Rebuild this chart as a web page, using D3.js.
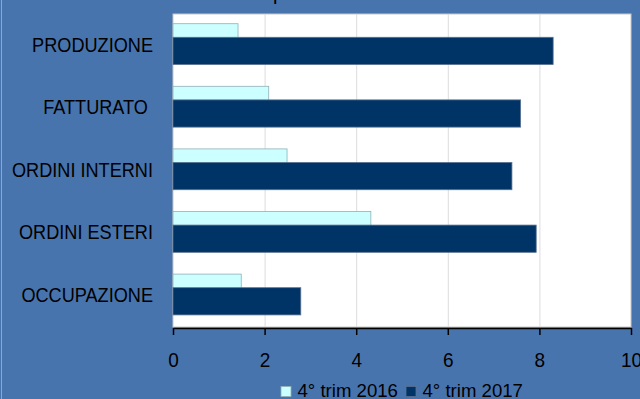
<!DOCTYPE html>
<html>
<head>
<meta charset="utf-8">
<script src="https://cdn.jsdelivr.net/npm/d3@7"></script>
<style>
  body { margin: 0; padding: 0; }
  svg { display: block; }
  text { font-family: "Liberation Sans", Arial, sans-serif; fill: #000; white-space: pre; }
</style>
</head>
<body>
<svg width="640" height="399"></svg>
<script>
// data
var categories = ["PRODUZIONE", "FATTURATO ", "ORDINI INTERNI", "ORDINI ESTERI", "OCCUPAZIONE"];
var trim2016 = [1.42, 2.09, 2.49, 4.32, 1.49];
var trim2017 = [8.30, 7.59, 7.40, 7.93, 2.79];
var seriesNames = ["4° trim 2016", "4° trim 2017"];
var xTicks = [0, 2, 4, 6, 8, 10];

var width = 640, height = 399;
var plotLeft = 173, plotRight = 631, plotTop = 14, plotBottom = 327;
var lightFill = "#ccffff", darkFill = "#003366";

var svg = d3.select('svg');

svg.append('rect')
    .attr('width', width)
    .attr('height', height)
    .attr('fill', '#4874ae');

svg.append('line')
    .attr('x1', 1.5).attr('x2', 1.5)
    .attr('y1', 0).attr('y2', height)
    .attr('stroke', '#8ea6ca');

// title (mostly cut off at the top)
svg.append('text')
    .attr('x', 323)
    .attr('y', 0)
    .attr('text-anchor', 'middle')
    .attr('font-size', 20)
    .text('precedente');

var x = d3.scaleLinear()
    .domain([0, 10])
    .range([plotLeft, plotRight]);

var y = d3.scaleBand()
    .domain(categories)
    .range([plotTop, plotBottom]);

var bw = y.bandwidth();

// plot area
svg.append('rect')
    .attr('x', plotLeft)
    .attr('y', plotTop)
    .attr('width', plotRight - plotLeft)
    .attr('height', plotBottom - plotTop)
    .attr('fill', '#fff')
    .attr('stroke', '#c8c8c8');

// gridlines
svg.selectAll('.grid')
    .data(xTicks.slice(1, -1))
    .enter()
    .append('line')
    .attr('x1', d => x(d) + 0.5)
    .attr('x2', d => x(d) + 0.5)
    .attr('y1', plotTop)
    .attr('y2', plotBottom)
    .attr('stroke', '#dcdcdc');

// bars - 2016 first, 2017 overlaps it
svg.selectAll('.b2016')
    .data(trim2016)
    .enter()
    .append('rect')
    .attr('x', x(0))
    .attr('y', (d, i) => y(categories[i]) + bw * 0.155)
    .attr('width', d => x(d) - x(0))
    .attr('height', bw * 0.43)
    .attr('fill', lightFill)
    .attr('stroke', '#8fb0b8')
    .attr('stroke-width', 0.8);

svg.selectAll('.b2017')
    .data(trim2017)
    .enter()
    .append('rect')
    .attr('x', x(0))
    .attr('y', (d, i) => y(categories[i]) + bw * 0.372)
    .attr('width', d => x(d) - x(0))
    .attr('height', bw * 0.435)
    .attr('fill', darkFill)
    .attr('stroke', '#5a7190')
    .attr('stroke-width', 0.8);

// category labels
svg.selectAll('.cat')
    .data(categories)
    .enter()
    .append('text')
    .attr('text-anchor', 'end')
    .attr('font-size', 20.5)
    .attr('transform', d => `translate(153, ${y(d) + bw / 2 + 6.2}) scale(0.885, 1)`)
    .text(d => d);

// x axis
var xAxis = d3.axisBottom(x)
    .tickValues(xTicks)
    .tickSize(7)
    .tickSizeOuter(0)
    .tickFormat(d3.format('d'));

var axisG = svg.append('g')
    .attr('transform', `translate(0, ${plotBottom + 1})`)
    .call(xAxis);

axisG.select('.domain').attr('stroke', '#000').attr('stroke-width', 1.5);
axisG.selectAll('.tick line').attr('stroke', '#000').attr('stroke-width', 1.5);
axisG.selectAll('.tick text')
    .attr('font-size', 20)
    .attr('font-family', '"Liberation Sans", Arial, sans-serif')
    .attr('fill', '#000')
    .attr('y', 39.5)
    .attr('dy', 0)
    .attr('transform', 'scale(0.95, 1)');

// legend
var legendX = [281, 406];
var legend = svg.selectAll('.leg')
    .data(seriesNames)
    .enter()
    .append('g')
    .attr('transform', (d, i) => `translate(${legendX[i]}, 386.5)`);

legend.append('rect')
    .attr('width', 10)
    .attr('height', 10)
    .attr('fill', (d, i) => i == 0 ? lightFill : darkFill)
    .attr('stroke', (d, i) => i == 0 ? '#8fb0b8' : '#5a7190')
    .attr('stroke-width', 0.8);

legend.append('text')
    .attr('x', 16.5)
    .attr('y', 10.3)
    .attr('font-size', 18.6)
    .text(d => d);
</script>
</body>
</html>
